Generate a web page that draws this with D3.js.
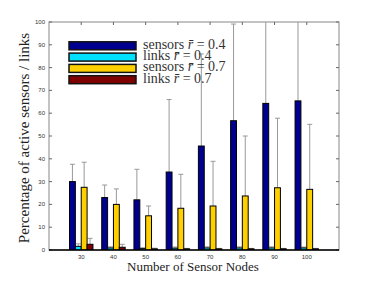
<!DOCTYPE html>
<html>
<head>
<meta charset="utf-8">
<script src="https://cdn.jsdelivr.net/npm/d3@7"></script>
<style>
  body { margin: 0; background: #fff; }
  svg { display: block; }
</style>
</head>
<body>
<svg id="chart" width="375" height="282"></svg>
<script>
// data
const nodes = ["30", "40", "50", "60", "70", "80", "90", "100"];
const seriesNames = ["sensors", "links", "sensors", "links"];
const seriesR = ["0.4", "0.4", "0.7", "0.7"];
const sensors04 = [30, 23, 22, 34.2, 45.6, 56.7, 64.3, 65.4];
const sensors04Err = [37.6, 28.5, 35.4, 66, 86, 99.1, 108, 108];
const links04 = [1.6, 0.9, 0.6, 0.8, 0.9, 0.9, 0.9, 0.9];
const links04Err = [2.7, 1.4, 1.0, 1.3, 1.4, 1.4, 1.4, 1.3];
const sensors07 = [27.5, 20, 15, 18.3, 19.3, 23.7, 27.3, 26.6];
const sensors07Err = [38.5, 26.8, 19.3, 33.2, 38.9, 50, 57.8, 55.1];
const links07 = [2.5, 1.2, 0.5, 0.5, 0.5, 0.5, 0.5, 0.5];
const links07Err = [5.1, 2.5, 0.8, 0.7, 0.7, 0.7, 0.7, 0.7];
const yTicks = [0, 10, 20, 30, 40, 50, 60, 70, 80, 90, 100];
const colors = ["#000090", "#00e0ff", "#ffd000", "#800000"];

const values = [sensors04, links04, sensors07, links07];
const errs = [sensors04Err, links04Err, sensors07Err, links07Err];

const mLeft = 49, mRight = 339, mTop = 22, mBottom = 250;

const svg = d3.select("#chart");

let x = d3.scaleBand()
    .domain(nodes)
    .range([mLeft, mRight])
    .paddingInner(0)
    .paddingOuter(0.5);

let y = d3.scaleLinear()
    .domain([0, 100])
    .range([mBottom, mTop]);

// bars inside each group take 4/5.5 of the step
let inner = d3.scaleBand()
    .domain(d3.range(4))
    .range([0, x.step() * 4 / 5.5]);

svg.append("clipPath").attr("id", "clip")
    .append("rect")
    .attr("x", mLeft).attr("y", mTop)
    .attr("width", mRight - mLeft).attr("height", mBottom - mTop);

// frame
svg.append("rect")
    .attr("x", mLeft).attr("y", mTop)
    .attr("width", mRight - mLeft).attr("height", mBottom - mTop)
    .attr("fill", "none")
    .attr("stroke", "#888")
    .attr("stroke-width", 1);

// y ticks, left and right, pointing inward
yTicks.forEach(function(t) {
    svg.append("line")
        .attr("x1", mLeft).attr("x2", mLeft + 3)
        .attr("y1", y(t)).attr("y2", y(t))
        .attr("stroke", "#666");
    svg.append("line")
        .attr("x1", mRight - 3).attr("x2", mRight)
        .attr("y1", y(t)).attr("y2", y(t))
        .attr("stroke", "#666");
    svg.append("text")
        .attr("x", mLeft - 4)
        .attr("y", y(t) + 2)
        .attr("text-anchor", "end")
        .style("font-family", "Liberation Sans, Arial, sans-serif")
        .style("font-size", "6px")
        .attr("fill", "#333")
        .text(t);
});

// x ticks at top, labels at bottom
nodes.forEach(function(n) {
    let cx = x(n) + x.bandwidth() / 2;
    svg.append("line")
        .attr("x1", cx).attr("x2", cx)
        .attr("y1", mTop).attr("y2", mTop + 3)
        .attr("stroke", "#666");
    svg.append("text")
        .attr("x", cx)
        .attr("y", mBottom + 8.5)
        .attr("text-anchor", "middle")
        .style("font-family", "Liberation Sans, Arial, sans-serif")
        .style("font-size", "6px")
        .attr("fill", "#333")
        .text(n);
});

let plot = svg.append("g").attr("clip-path", "url(#clip)");

// error bars (upper half only)
values.forEach(function(vals, s) {
    vals.forEach(function(v, i) {
        let cx = x(nodes[i]) + x.bandwidth() / 2 - inner.range()[1] / 2
            + inner(s) + inner.bandwidth() / 2;
        let e = errs[s][i];
        plot.append("line")
            .attr("x1", cx).attr("x2", cx)
            .attr("y1", y(v)).attr("y2", y(e))
            .attr("stroke", "#999")
            .attr("stroke-width", 1);
        plot.append("line")
            .attr("x1", cx - 2.5).attr("x2", cx + 2.5)
            .attr("y1", y(e)).attr("y2", y(e))
            .attr("stroke", "#999")
            .attr("stroke-width", 1);
    });
});

// bars
values.forEach(function(vals, s) {
    plot.append("g")
        .attr("fill", colors[s])
        .selectAll("rect")
        .data(vals)
        .enter().append("rect")
            .attr("x", function(d, i) {
                return x(nodes[i]) + x.bandwidth() / 2 - inner.range()[1] / 2 + inner(s);
            })
            .attr("y", function(d) { return y(d); })
            .attr("width", inner.bandwidth())
            .attr("height", function(d) { return y(0) - y(d); })
            .attr("stroke", "#000")
            .attr("stroke-width", 1);
});

// baseline
svg.append("line")
    .attr("x1", mLeft).attr("x2", mRight)
    .attr("y1", y(0)).attr("y2", y(0))
    .attr("stroke", "#000")
    .attr("stroke-width", 1.5);

// legend
let legend = svg.append("g");
seriesNames.forEach(function(name, s) {
    let ly = 41.8 + s * 11.3;
    legend.append("rect")
        .attr("x", 69).attr("y", ly)
        .attr("width", 67).attr("height", 8)
        .attr("fill", colors[s])
        .attr("stroke", "#111")
        .attr("stroke-width", 1.5);
    let t = legend.append("text")
        .attr("x", 143)
        .attr("y", ly + 7)
        .style("font-family", "Liberation Serif, Times New Roman, serif")
        .style("font-size", "14px")
        .attr("fill", "#333");
    t.append("tspan").text(name + " ");
    t.append("tspan").style("font-style", "italic").text("r\u0304");
    t.append("tspan").text(" = " + seriesR[s]);
});

// axis labels
svg.append("text")
    .attr("x", 193)
    .attr("y", 271)
    .attr("text-anchor", "middle")
    .style("font-family", "Liberation Serif, Times New Roman, serif")
    .style("font-size", "13px")
    .attr("fill", "#222")
    .text("Number of Sensor Nodes");

svg.append("text")
    .attr("transform", "translate(29," + 138 + ") rotate(-90)")
    .attr("text-anchor", "middle")
    .style("font-family", "Liberation Serif, Times New Roman, serif")
    .style("font-size", "15px")
    .attr("fill", "#222")
    .text("Percentage of active sensors / links");
</script>
</body>
</html>
